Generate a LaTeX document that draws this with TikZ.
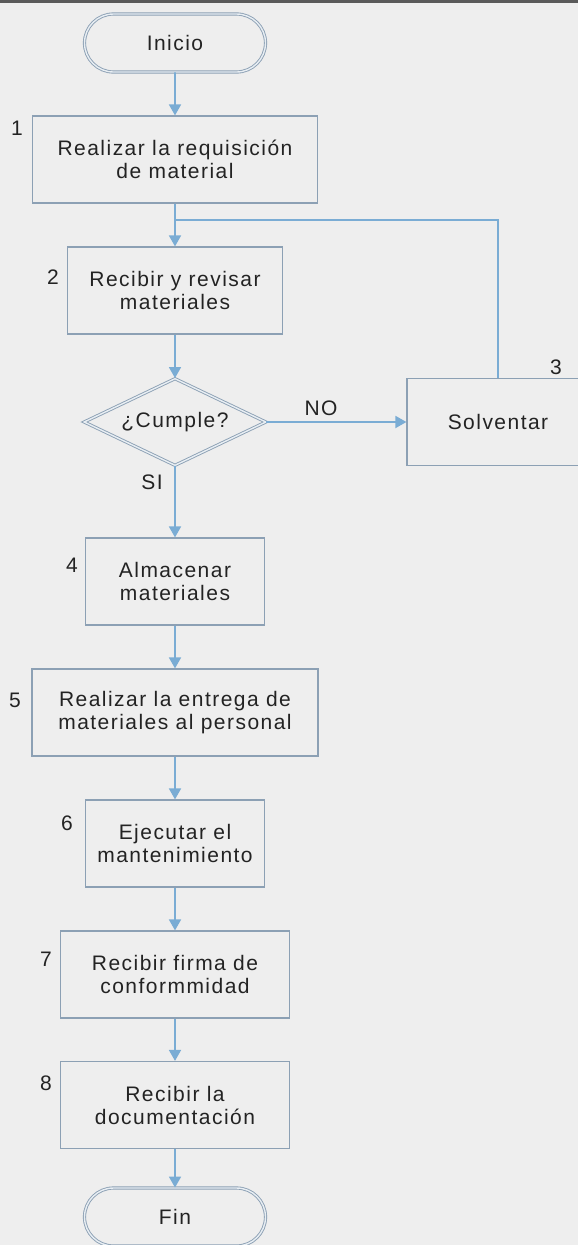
\documentclass[tikz,border=0pt]{standalone}
\usepackage{fontspec}
\newfontfamily\flowfont{Liberation Sans}[LetterSpace=7]
\usetikzlibrary{shapes.geometric,shapes.misc,arrows.meta}
\definecolor{BoxClr}{RGB}{140,160,180}
\definecolor{ArrowClr}{RGB}{122,172,212}
\definecolor{DblClr}{RGB}{232,238,243}
\definecolor{PaperClr}{RGB}{238,238,238}
\definecolor{EdgeClr}{RGB}{90,90,90}
\definecolor{TextClr}{RGB}{35,35,35}

\begin{document}
\begin{tikzpicture}[x=1pt,y=-1pt,
  every node/.style={font=\flowfont\fontsize{21}{23}\selectfont,text=TextClr},
  proc/.style={draw=BoxClr,line width=1.2pt,minimum height=87pt,inner sep=0pt,align=center},
  term/.style={rounded rectangle,draw=BoxClr,line width=0.9pt,double=DblClr,double distance=1.4pt,minimum width=181pt,minimum height=58pt,inner sep=0pt},
  decide/.style={diamond,draw=BoxClr,line width=0.9pt,double=DblClr,double distance=1.4pt,minimum width=182pt,minimum height=87pt,inner sep=0pt,aspect=2},
  flow/.style={draw=ArrowClr,line width=1.8pt,-{Triangle[width=12pt,length=11pt]}},
  link/.style={draw=ArrowClr,line width=1.8pt}]

\useasboundingbox (0,0) rectangle (578,1245);
\fill[PaperClr] (0,0) rectangle (578,1245);
\fill[EdgeClr] (0,0) rectangle (578,2.5);

\node[term] (ini) at (175,43) {Inicio};
\node[proc,minimum width=285pt] (b1) at (175,159.5) {Realizar la requisición\\de material};
\node[proc,minimum width=215pt] (b2) at (175,290.5) {Recibir y revisar\\materiales};
\node[decide] (dec) at (175,422) {¿Cumple?};
\node[proc,minimum width=182pt] (s3) at (498,422) {Solventar};
\node[proc,minimum width=179pt] (b4) at (175,581.5) {Almacenar\\materiales};
\node[proc,minimum width=286pt] (b5) at (175,712.5) {Realizar la entrega de\\materiales al personal};
\node[proc,minimum width=179pt] (b6) at (175,843.5) {Ejecutar el\\mantenimiento};
\node[proc,minimum width=229pt] (b7) at (175,974.5) {Recibir firma de\\conformmidad};
\node[proc,minimum width=229pt] (b8) at (175,1105) {Recibir la\\documentación};
\node[term] (fin) at (175,1217) {Fin};

\node (n1) at (17,128) {1};
\node (n2) at (53,277) {2};
\node (n3) at (556,367) {3};
\node (n4) at (72,565) {4};
\node (n5) at (15,700) {5};
\node (n6) at (67,823) {6};
\node (n7) at (46,959) {7};
\node (n8) at (46,1083) {8};
\node (no) at (321,408) {NO};
\node (si) at (152,482) {SI};

\coordinate (j1) at (175,220);

\draw[flow] (ini) -- (b1);
\draw[flow] (b1) -- (b2);
\draw[flow] (b2) -- (dec.north);
\draw[flow] (dec.east) -- (s3);
\draw[link] (s3.north) |- (j1);
\draw[flow] (dec.south) -- (b4);
\draw[flow] (b4) -- (b5);
\draw[flow] (b5) -- (b6);
\draw[flow] (b6) -- (b7);
\draw[flow] (b7) -- (b8);
\draw[flow] (b8) -- (fin);

\end{tikzpicture}
\end{document}
